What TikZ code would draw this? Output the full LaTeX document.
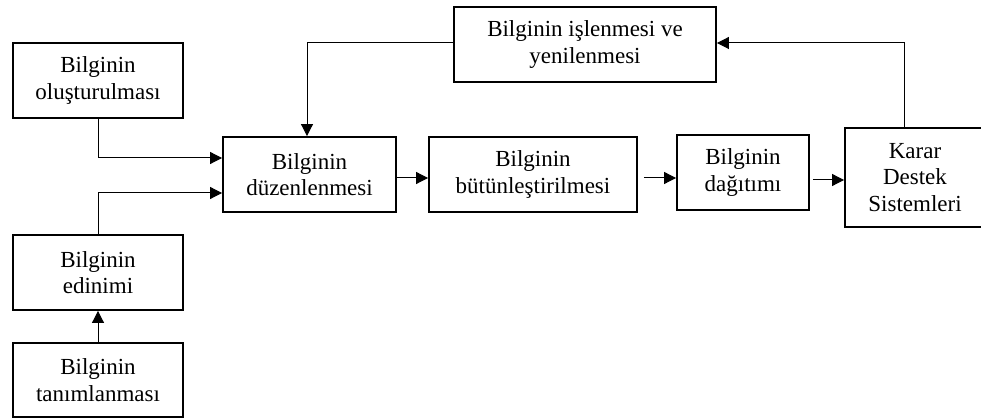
\documentclass[tikz,border=0pt]{standalone}
\usepackage{fontspec}
\setmainfont{Liberation Serif}
\usetikzlibrary{arrows.meta}
\begin{document}
\begin{tikzpicture}[x=1pt,y=-1pt,
  box/.style={draw=black,line width=1.9pt,fill=white,inner sep=0pt,align=center,
    font=\fontsize{23}{26.5}\selectfont},
  link/.style={draw=black,line width=1pt,-{Triangle[length=12pt,width=12pt]}}]
\useasboundingbox (0,0) rectangle (981,419);

\node[box,minimum width=170pt,minimum height=75pt] (olus)  at (98,80.5)   {Bilginin\\oluşturulması};
\node[box,minimum width=170pt,minimum height=75pt] (edin)  at (98,272.5)  {Bilginin\\edinimi};
\node[box,minimum width=170pt,minimum height=74pt] (tanim) at (98,380)    {Bilginin\\tanımlanması};
\node[box,minimum width=173pt,minimum height=75pt] (duzen) at (309.5,174.5) {Bilginin\\düzenlenmesi};
\node[box,minimum width=208pt,minimum height=75pt] (butun) at (533,174.5) {Bilginin\\bütünleştirilmesi};
\node[box,minimum width=132pt,minimum height=75pt] (dagit) at (743,172.5) {Bilginin\\dağıtımı};
\node[box,minimum width=140pt,minimum height=99pt] (karar) at (915,177.5) {Karar\\Destek\\Sistemleri};
\node[box,minimum width=262pt,minimum height=75pt] (islen) at (585,44.5)  {Bilginin işlenmesi ve\\yenilenmesi};

% inputs into the organising step
\draw[link] (olus.south) |- (duzen.west |- 0,158);
\draw[link] (edin.north) |- (duzen.west |- 0,193);
\draw[link] (tanim.north) -- (edin.south);

% main flow
\draw[link] (duzen.east |- 0,178) -- (butun.west |- 0,178);
\draw[link,shorten <=6pt] (butun.east |- 0,178) -- (dagit.west |- 0,178);
\draw[link,shorten <=3pt] (dagit.east |- 0,180) -- (karar.west |- 0,180);

% feedback loop
\draw[link] (karar.north -| 904,0) |- (islen.east |- 0,43);
\draw[link] (islen.west |- 0,43) -| (duzen.north -| 307,0);
\end{tikzpicture}
\end{document}
